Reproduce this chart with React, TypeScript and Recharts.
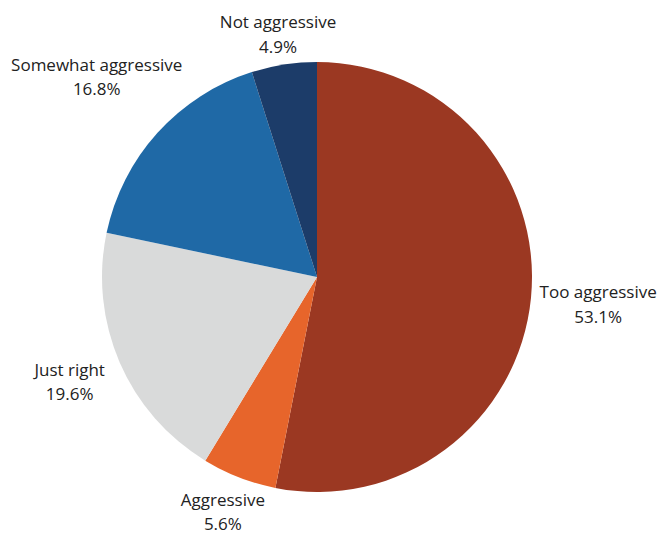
import { PieChart, Pie, Cell } from "recharts";

const categories = ["Too aggressive", "Aggressive", "Just right", "Somewhat aggressive", "Not aggressive"];
const shares = [53.1, 5.6, 19.6, 16.8, 4.9];
const percentLabels = ["53.1%", "5.6%", "19.6%", "16.8%", "4.9%"];
const colors = ["#9b3822", "#e7652b", "#d9dada", "#1f69a6", "#1c3c69"];

const data = categories.map((name, i) => ({ name, value: shares[i], pct: percentLabels[i] }));

const RAD = Math.PI / 180;

// small hand nudges so labels sit like the original
const nudge: Record<string, [number, number]> = {
  "Too aggressive": [-4, 3.5],
  "Aggressive": [3.5, 2],
  "Just right": [0, 6],
  "Somewhat aggressive": [8, -32],
  "Not aggressive": [5, 5],
};

const renderLabel = (props: any) => {
  const { cx, cy, midAngle, outerRadius, index } = props;
  const d = data[index];
  const dx = Math.cos(-midAngle * RAD);
  const dy = Math.sin(-midAngle * RAD);
  const r = outerRadius + 12;
  const w = d.name.length * 8.5;
  const [nx, ny] = nudge[d.name] || [0, 0];
  const x = cx + r * dx + (dx * w) / 2 + nx;
  const y = cy + r * dy + dy * 23 + ny;
  return (
    <text
      x={x}
      y={y}
      textAnchor="middle"
      fill="#222"
      fontSize={17}
      fontFamily="'Open Sans', 'Noto Sans', sans-serif"
    >
      <tspan x={x} dy={-6.5}>{d.name}</tspan>
      <tspan x={x} dy={24.5}>{d.pct}</tspan>
    </text>
  );
};

export default function App() {
  return (
    <div style={{ position: "absolute", left: 0, top: 0, background: "#fff" }}>
      <PieChart width={660} height={535} margin={{ top: 0, right: 0, bottom: 0, left: 0 }}>
        <Pie
          data={data}
          dataKey="value"
          nameKey="name"
          cx={317}
          cy={277}
          outerRadius={215}
          startAngle={90}
          endAngle={-270}
          stroke="none"
          label={renderLabel}
          labelLine={false}
          isAnimationActive={false}
        >
          {data.map((d, i) => (
            <Cell key={d.name} fill={colors[i]} />
          ))}
        </Pie>
      </PieChart>
    </div>
  );
}
